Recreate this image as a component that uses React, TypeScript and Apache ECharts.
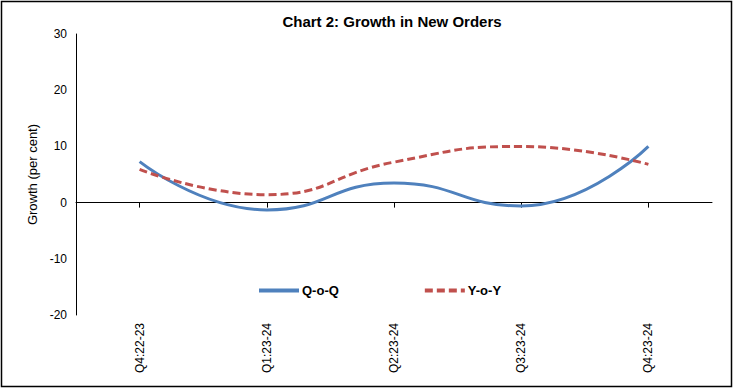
import React, { useEffect, useRef } from "react";
import * as echarts from "echarts";

const categories = ["Q4:22-23", "Q1:23-24", "Q2:23-24", "Q3:23-24", "Q4:23-24"];
const qoq = [7.3, -1.3, 3.5, -0.6, 10.0];
const yoy = [5.9, 1.4, 7.2, 10.0, 6.8];
const FONT = "Liberation Sans, Arial, sans-serif";

export default function App() {
  const ref = useRef<HTMLDivElement>(null);
  useEffect(() => {
    if (!ref.current) return;
    const chart = echarts.init(ref.current, null, { renderer: "svg" });
    chart.setOption({
      animation: false,
      textStyle: { fontFamily: FONT },
      title: {
        text: "Chart 2: Growth in New Orders",
        left: 387,
        textAlign: "center",
        top: 9,
        textStyle: { fontFamily: FONT, fontSize: 15, fontWeight: "bold", color: "#000" },
      },
      graphic: [
        {
          type: "rect",
          shape: { x: 1.5, y: 1.5, width: 730, height: 385 },
          style: { fill: "none", stroke: "#000", lineWidth: 1.5 },
          silent: true,
        },
      ],
      legend: {
        left: 252,
        top: 279,
        itemWidth: 40,
        itemHeight: 12,
        itemGap: 84,
        data: ["Q-o-Q", "Y-o-Y"],
        itemStyle: { opacity: 0 },
        lineStyle: { width: 4 },
        textStyle: { fontFamily: FONT, fontSize: 13, fontWeight: "bold", color: "#000", padding: [0, 0, 0, -2] },
      },
      grid: { left: 76, right: 22, top: 34, bottom: 74, containLabel: false },
      xAxis: [
        {
          type: "category",
          data: categories,
          position: "bottom",
          axisLine: { show: false, onZero: false },
          axisTick: { show: false },
          axisLabel: { rotate: 90, margin: 8, fontSize: 12, color: "#000", fontFamily: FONT },
        },
        {
          type: "category",
          data: categories,
          position: "top",
          axisLine: { show: true, onZero: true, lineStyle: { color: "#000", width: 1 } },
          axisTick: { show: true, inside: true, alignWithLabel: true, length: 5, lineStyle: { color: "#000" } },
          axisLabel: { show: false },
        },
      ],
      yAxis: {
        type: "value",
        min: -20,
        max: 30,
        interval: 10,
        name: "Growth (per cent)",
        nameLocation: "middle",
        nameGap: 35,
        nameTextStyle: { fontFamily: FONT, fontSize: 13, color: "#000" },
        axisLine: { show: true, lineStyle: { color: "#000", width: 1 } },
        axisTick: { show: false },
        splitLine: { show: false },
        axisLabel: { margin: 9, fontSize: 12, color: "#000", fontFamily: FONT },
      },
      series: [
        {
          name: "Q-o-Q",
          type: "line",
          xAxisIndex: 0,
          data: qoq,
          smooth: 0.5,
          symbol: "none",
          lineStyle: { color: "#4F81BD", width: 3 },
          itemStyle: { color: "#4F81BD" },
        },
        {
          name: "Y-o-Y",
          type: "line",
          xAxisIndex: 0,
          data: yoy,
          smooth: 0.5,
          symbol: "none",
          lineStyle: { color: "#C0504D", width: 3, type: [8, 4] },
          itemStyle: { color: "#C0504D" },
        },
      ],
    });
    return () => chart.dispose();
  }, []);
  return <div ref={ref} style={{ width: 734, height: 389, position: "absolute", left: 0, top: 0 }} />;
}
